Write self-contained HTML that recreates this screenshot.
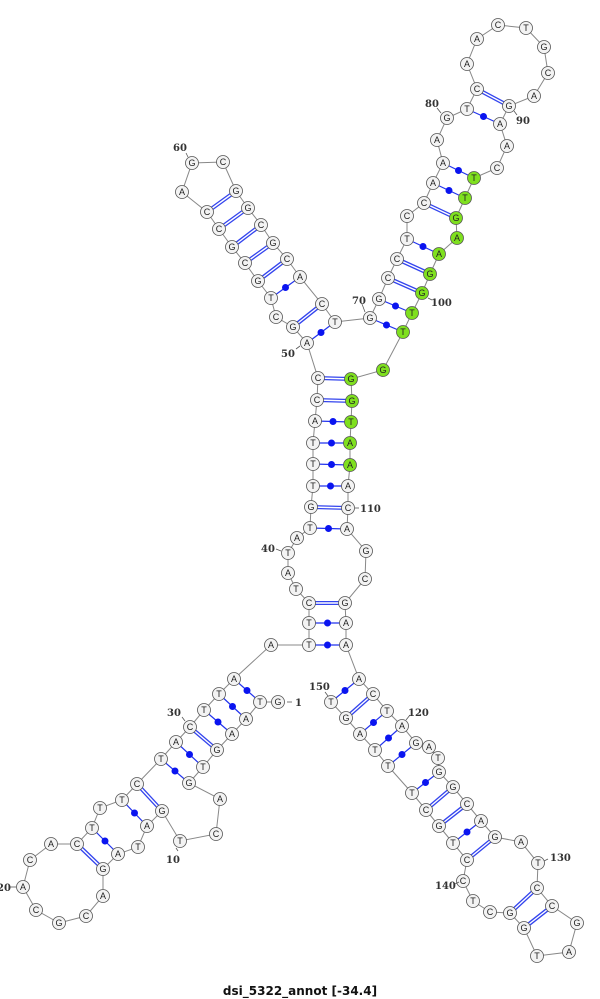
<!DOCTYPE html>
<html><head><meta charset="utf-8"><style>
html,body{margin:0;padding:0;background:#fff;}
svg{display:block;}
.n circle{fill:#f3f3f3;stroke:#555;stroke-width:0.8;}
.g circle{fill:#7fe01f;stroke:#555;stroke-width:0.8;}
text{font-family:"Liberation Sans",sans-serif;}
.n text,.g text{font-size:9px;fill:#222;text-anchor:middle;dominant-baseline:central;}
.lb text{font-size:10px;font-weight:bold;fill:#333;font-family:"DejaVu Serif","Liberation Serif",serif;}
</style></head><body>
<svg width="600" height="999" viewBox="0 0 600 999" xmlns="http://www.w3.org/2000/svg">
<polyline fill="none" stroke="#888" stroke-width="1" points="278,702 260,702 246,719 232,734 217,750 203,767 189,783 220,799 216,834 180,841 162,811 147,826 138,847 118,854 103,869 103,896 86,916 59,923 36,910 23,887 30,860 51,844 77,844 92,828 100,808 122,800 137,784 161,759 176,742 190,727 204,710 219,694 234,679 271,645 309,645 309,623 309,603 296,589 288,573 288,553 297,538 310,528 311,507 313,486 313,464 313,443 315,421 317,400 318,378 307,343 293,327 276,317 271,298 258,281 245,263 232,247 219,229 207,212 182,192 192,163 223,162 236,191 248,208 261,225 273,243 287,259 300,277 322,304 335,322 370,318 379,299 388,278 397,259 407,239 407,216 424,203 433,183 443,163 437,140 447,118 467,109 477,89 467,64 477,39 498,25 526,28 544,47 548,73 534,96 509,106 500,124 507,146 497,168 474,178 465,198 456,218 457,238 439,254 430,274 422,293 412,313 403,332 383,370 351,379 352,401 351,422 350,443 350,465 348,486 348,508 347,529 366,551 365,579 345,603 346,623 346,645 359,679 373,694 387,711 402,726 416,743 429,747 438,758 439,772 453,787 467,804 481,821 495,837 521,842 538,863 537,888 552,906 577,923 569,952 537,956 524,928 510,913 490,912 473,901 463,881 467,860 453,843 439,826 426,810 412,793 388,766 375,750 360,734 346,718 331,702"/>
<g stroke="#3344ee" stroke-width="4">
<line x1="190" y1="727" x2="217" y2="750"/><line x1="137" y1="784" x2="162" y2="811"/><line x1="77" y1="844" x2="103" y2="869"/>
<line x1="309" y1="603" x2="345" y2="603"/><line x1="311" y1="507" x2="348" y2="508"/><line x1="317" y1="400" x2="352" y2="401"/><line x1="318" y1="378" x2="351" y2="379"/>
<line x1="293" y1="327" x2="322" y2="304"/><line x1="258" y1="281" x2="287" y2="259"/><line x1="245" y1="263" x2="273" y2="243"/><line x1="232" y1="247" x2="261" y2="225"/><line x1="219" y1="229" x2="248" y2="208"/><line x1="207" y1="212" x2="236" y2="191"/>
<line x1="388" y1="278" x2="422" y2="293"/><line x1="397" y1="259" x2="430" y2="274"/><line x1="424" y1="203" x2="456" y2="218"/><line x1="477" y1="89" x2="509" y2="106"/>
<line x1="373" y1="694" x2="346" y2="718"/><line x1="453" y1="787" x2="426" y2="810"/><line x1="467" y1="804" x2="439" y2="826"/><line x1="495" y1="837" x2="467" y2="860"/><line x1="537" y1="888" x2="510" y2="913"/><line x1="552" y1="906" x2="524" y2="928"/>
</g>
<g stroke="#fff" stroke-width="1.4">
<line x1="190" y1="727" x2="217" y2="750"/><line x1="137" y1="784" x2="162" y2="811"/><line x1="77" y1="844" x2="103" y2="869"/>
<line x1="309" y1="603" x2="345" y2="603"/><line x1="311" y1="507" x2="348" y2="508"/><line x1="317" y1="400" x2="352" y2="401"/><line x1="318" y1="378" x2="351" y2="379"/>
<line x1="293" y1="327" x2="322" y2="304"/><line x1="258" y1="281" x2="287" y2="259"/><line x1="245" y1="263" x2="273" y2="243"/><line x1="232" y1="247" x2="261" y2="225"/><line x1="219" y1="229" x2="248" y2="208"/><line x1="207" y1="212" x2="236" y2="191"/>
<line x1="388" y1="278" x2="422" y2="293"/><line x1="397" y1="259" x2="430" y2="274"/><line x1="424" y1="203" x2="456" y2="218"/><line x1="477" y1="89" x2="509" y2="106"/>
<line x1="373" y1="694" x2="346" y2="718"/><line x1="453" y1="787" x2="426" y2="810"/><line x1="467" y1="804" x2="439" y2="826"/><line x1="495" y1="837" x2="467" y2="860"/><line x1="537" y1="888" x2="510" y2="913"/><line x1="552" y1="906" x2="524" y2="928"/>
</g>
<g stroke="#2233ee" stroke-width="1.2">
<line x1="234" y1="679" x2="260" y2="702"/><line x1="219" y1="694" x2="246" y2="719"/><line x1="204" y1="710" x2="232" y2="734"/><line x1="176" y1="742" x2="203" y2="767"/><line x1="161" y1="759" x2="189" y2="783"/><line x1="122" y1="800" x2="147" y2="826"/><line x1="92" y1="828" x2="118" y2="854"/>
<line x1="309" y1="645" x2="346" y2="645"/><line x1="309" y1="623" x2="346" y2="623"/><line x1="310" y1="528" x2="347" y2="529"/><line x1="313" y1="486" x2="348" y2="486"/><line x1="313" y1="464" x2="350" y2="465"/><line x1="313" y1="443" x2="350" y2="443"/><line x1="315" y1="421" x2="351" y2="422"/>
<line x1="307" y1="343" x2="335" y2="322"/><line x1="271" y1="298" x2="300" y2="277"/><line x1="370" y1="318" x2="403" y2="332"/><line x1="379" y1="299" x2="412" y2="313"/><line x1="407" y1="239" x2="439" y2="254"/><line x1="433" y1="183" x2="465" y2="198"/><line x1="443" y1="163" x2="474" y2="178"/><line x1="467" y1="109" x2="500" y2="124"/>
<line x1="359" y1="679" x2="331" y2="702"/><line x1="387" y1="711" x2="360" y2="734"/><line x1="402" y1="726" x2="375" y2="750"/><line x1="416" y1="743" x2="388" y2="766"/><line x1="439" y1="772" x2="412" y2="793"/><line x1="481" y1="821" x2="453" y2="843"/>
</g>
<g fill="#0a14f0">
<circle cx="247" cy="690.5" r="3.5"/><circle cx="232.5" cy="706.5" r="3.5"/><circle cx="218" cy="722" r="3.5"/><circle cx="189.5" cy="754.5" r="3.5"/><circle cx="175" cy="771" r="3.5"/><circle cx="134.5" cy="813" r="3.5"/><circle cx="105" cy="841" r="3.5"/>
<circle cx="327.5" cy="645" r="3.5"/><circle cx="327.5" cy="623" r="3.5"/><circle cx="328.5" cy="528.5" r="3.5"/><circle cx="330.5" cy="486" r="3.5"/><circle cx="331.5" cy="464.5" r="3.5"/><circle cx="331.5" cy="443" r="3.5"/><circle cx="333" cy="421.5" r="3.5"/>
<circle cx="321" cy="332.5" r="3.5"/><circle cx="285.5" cy="287.5" r="3.5"/><circle cx="386.5" cy="325" r="3.5"/><circle cx="395.5" cy="306" r="3.5"/><circle cx="423" cy="246.5" r="3.5"/><circle cx="449" cy="190.5" r="3.5"/><circle cx="458.5" cy="170.5" r="3.5"/><circle cx="483.5" cy="116.5" r="3.5"/>
<circle cx="345" cy="690.5" r="3.5"/><circle cx="373.5" cy="722.5" r="3.5"/><circle cx="388.5" cy="738" r="3.5"/><circle cx="402" cy="754.5" r="3.5"/><circle cx="425.5" cy="782.5" r="3.5"/><circle cx="467" cy="832" r="3.5"/>
</g>
<g class="n">
<g transform="translate(278,702)"><circle r="6.5"/><text>G</text></g>
<g transform="translate(260,702)"><circle r="6.5"/><text>T</text></g>
<g transform="translate(246,719)"><circle r="6.5"/><text>A</text></g>
<g transform="translate(232,734)"><circle r="6.5"/><text>A</text></g>
<g transform="translate(217,750)"><circle r="6.5"/><text>G</text></g>
<g transform="translate(203,767)"><circle r="6.5"/><text>T</text></g>
<g transform="translate(189,783)"><circle r="6.5"/><text>G</text></g>
<g transform="translate(220,799)"><circle r="6.5"/><text>A</text></g>
<g transform="translate(216,834)"><circle r="6.5"/><text>C</text></g>
<g transform="translate(180,841)"><circle r="6.5"/><text>T</text></g>
<g transform="translate(162,811)"><circle r="6.5"/><text>G</text></g>
<g transform="translate(147,826)"><circle r="6.5"/><text>A</text></g>
<g transform="translate(138,847)"><circle r="6.5"/><text>T</text></g>
<g transform="translate(118,854)"><circle r="6.5"/><text>A</text></g>
<g transform="translate(103,869)"><circle r="6.5"/><text>G</text></g>
<g transform="translate(103,896)"><circle r="6.5"/><text>A</text></g>
<g transform="translate(86,916)"><circle r="6.5"/><text>C</text></g>
<g transform="translate(59,923)"><circle r="6.5"/><text>G</text></g>
<g transform="translate(36,910)"><circle r="6.5"/><text>C</text></g>
<g transform="translate(23,887)"><circle r="6.5"/><text>A</text></g>
<g transform="translate(30,860)"><circle r="6.5"/><text>C</text></g>
<g transform="translate(51,844)"><circle r="6.5"/><text>A</text></g>
<g transform="translate(77,844)"><circle r="6.5"/><text>C</text></g>
<g transform="translate(92,828)"><circle r="6.5"/><text>T</text></g>
<g transform="translate(100,808)"><circle r="6.5"/><text>T</text></g>
<g transform="translate(122,800)"><circle r="6.5"/><text>T</text></g>
<g transform="translate(137,784)"><circle r="6.5"/><text>C</text></g>
<g transform="translate(161,759)"><circle r="6.5"/><text>T</text></g>
<g transform="translate(176,742)"><circle r="6.5"/><text>A</text></g>
<g transform="translate(190,727)"><circle r="6.5"/><text>C</text></g>
<g transform="translate(204,710)"><circle r="6.5"/><text>T</text></g>
<g transform="translate(219,694)"><circle r="6.5"/><text>T</text></g>
<g transform="translate(234,679)"><circle r="6.5"/><text>A</text></g>
<g transform="translate(271,645)"><circle r="6.5"/><text>A</text></g>
<g transform="translate(309,645)"><circle r="6.5"/><text>T</text></g>
<g transform="translate(309,623)"><circle r="6.5"/><text>T</text></g>
<g transform="translate(309,603)"><circle r="6.5"/><text>C</text></g>
<g transform="translate(296,589)"><circle r="6.5"/><text>T</text></g>
<g transform="translate(288,573)"><circle r="6.5"/><text>A</text></g>
<g transform="translate(288,553)"><circle r="6.5"/><text>T</text></g>
<g transform="translate(297,538)"><circle r="6.5"/><text>A</text></g>
<g transform="translate(310,528)"><circle r="6.5"/><text>T</text></g>
<g transform="translate(311,507)"><circle r="6.5"/><text>G</text></g>
<g transform="translate(313,486)"><circle r="6.5"/><text>T</text></g>
<g transform="translate(313,464)"><circle r="6.5"/><text>T</text></g>
<g transform="translate(313,443)"><circle r="6.5"/><text>T</text></g>
<g transform="translate(315,421)"><circle r="6.5"/><text>A</text></g>
<g transform="translate(317,400)"><circle r="6.5"/><text>C</text></g>
<g transform="translate(318,378)"><circle r="6.5"/><text>C</text></g>
<g transform="translate(307,343)"><circle r="6.5"/><text>A</text></g>
<g transform="translate(293,327)"><circle r="6.5"/><text>G</text></g>
<g transform="translate(276,317)"><circle r="6.5"/><text>C</text></g>
<g transform="translate(271,298)"><circle r="6.5"/><text>T</text></g>
<g transform="translate(258,281)"><circle r="6.5"/><text>G</text></g>
<g transform="translate(245,263)"><circle r="6.5"/><text>C</text></g>
<g transform="translate(232,247)"><circle r="6.5"/><text>G</text></g>
<g transform="translate(219,229)"><circle r="6.5"/><text>C</text></g>
<g transform="translate(207,212)"><circle r="6.5"/><text>C</text></g>
<g transform="translate(182,192)"><circle r="6.5"/><text>A</text></g>
<g transform="translate(192,163)"><circle r="6.5"/><text>G</text></g>
<g transform="translate(223,162)"><circle r="6.5"/><text>C</text></g>
<g transform="translate(236,191)"><circle r="6.5"/><text>G</text></g>
<g transform="translate(248,208)"><circle r="6.5"/><text>G</text></g>
<g transform="translate(261,225)"><circle r="6.5"/><text>C</text></g>
<g transform="translate(273,243)"><circle r="6.5"/><text>G</text></g>
<g transform="translate(287,259)"><circle r="6.5"/><text>C</text></g>
<g transform="translate(300,277)"><circle r="6.5"/><text>A</text></g>
<g transform="translate(322,304)"><circle r="6.5"/><text>C</text></g>
<g transform="translate(335,322)"><circle r="6.5"/><text>T</text></g>
<g transform="translate(370,318)"><circle r="6.5"/><text>G</text></g>
<g transform="translate(379,299)"><circle r="6.5"/><text>G</text></g>
<g transform="translate(388,278)"><circle r="6.5"/><text>C</text></g>
<g transform="translate(397,259)"><circle r="6.5"/><text>C</text></g>
<g transform="translate(407,239)"><circle r="6.5"/><text>T</text></g>
<g transform="translate(407,216)"><circle r="6.5"/><text>C</text></g>
<g transform="translate(424,203)"><circle r="6.5"/><text>C</text></g>
<g transform="translate(433,183)"><circle r="6.5"/><text>A</text></g>
<g transform="translate(443,163)"><circle r="6.5"/><text>A</text></g>
<g transform="translate(437,140)"><circle r="6.5"/><text>A</text></g>
<g transform="translate(447,118)"><circle r="6.5"/><text>G</text></g>
<g transform="translate(467,109)"><circle r="6.5"/><text>T</text></g>
<g transform="translate(477,89)"><circle r="6.5"/><text>C</text></g>
<g transform="translate(467,64)"><circle r="6.5"/><text>A</text></g>
<g transform="translate(477,39)"><circle r="6.5"/><text>A</text></g>
<g transform="translate(498,25)"><circle r="6.5"/><text>C</text></g>
<g transform="translate(526,28)"><circle r="6.5"/><text>T</text></g>
<g transform="translate(544,47)"><circle r="6.5"/><text>G</text></g>
<g transform="translate(548,73)"><circle r="6.5"/><text>C</text></g>
<g transform="translate(534,96)"><circle r="6.5"/><text>A</text></g>
<g transform="translate(509,106)"><circle r="6.5"/><text>G</text></g>
<g transform="translate(500,124)"><circle r="6.5"/><text>A</text></g>
<g transform="translate(507,146)"><circle r="6.5"/><text>A</text></g>
<g transform="translate(497,168)"><circle r="6.5"/><text>C</text></g>
<g transform="translate(348,486)"><circle r="6.5"/><text>A</text></g>
<g transform="translate(348,508)"><circle r="6.5"/><text>C</text></g>
<g transform="translate(347,529)"><circle r="6.5"/><text>A</text></g>
<g transform="translate(366,551)"><circle r="6.5"/><text>G</text></g>
<g transform="translate(365,579)"><circle r="6.5"/><text>C</text></g>
<g transform="translate(345,603)"><circle r="6.5"/><text>G</text></g>
<g transform="translate(346,623)"><circle r="6.5"/><text>A</text></g>
<g transform="translate(346,645)"><circle r="6.5"/><text>A</text></g>
<g transform="translate(359,679)"><circle r="6.5"/><text>A</text></g>
<g transform="translate(373,694)"><circle r="6.5"/><text>C</text></g>
<g transform="translate(387,711)"><circle r="6.5"/><text>T</text></g>
<g transform="translate(402,726)"><circle r="6.5"/><text>A</text></g>
<g transform="translate(416,743)"><circle r="6.5"/><text>G</text></g>
<g transform="translate(429,747)"><circle r="6.5"/><text>A</text></g>
<g transform="translate(438,758)"><circle r="6.5"/><text>T</text></g>
<g transform="translate(439,772)"><circle r="6.5"/><text>G</text></g>
<g transform="translate(453,787)"><circle r="6.5"/><text>G</text></g>
<g transform="translate(467,804)"><circle r="6.5"/><text>C</text></g>
<g transform="translate(481,821)"><circle r="6.5"/><text>A</text></g>
<g transform="translate(495,837)"><circle r="6.5"/><text>G</text></g>
<g transform="translate(521,842)"><circle r="6.5"/><text>A</text></g>
<g transform="translate(538,863)"><circle r="6.5"/><text>T</text></g>
<g transform="translate(537,888)"><circle r="6.5"/><text>C</text></g>
<g transform="translate(552,906)"><circle r="6.5"/><text>C</text></g>
<g transform="translate(577,923)"><circle r="6.5"/><text>G</text></g>
<g transform="translate(569,952)"><circle r="6.5"/><text>A</text></g>
<g transform="translate(537,956)"><circle r="6.5"/><text>T</text></g>
<g transform="translate(524,928)"><circle r="6.5"/><text>G</text></g>
<g transform="translate(510,913)"><circle r="6.5"/><text>G</text></g>
<g transform="translate(490,912)"><circle r="6.5"/><text>C</text></g>
<g transform="translate(473,901)"><circle r="6.5"/><text>T</text></g>
<g transform="translate(463,881)"><circle r="6.5"/><text>C</text></g>
<g transform="translate(467,860)"><circle r="6.5"/><text>C</text></g>
<g transform="translate(453,843)"><circle r="6.5"/><text>T</text></g>
<g transform="translate(439,826)"><circle r="6.5"/><text>G</text></g>
<g transform="translate(426,810)"><circle r="6.5"/><text>C</text></g>
<g transform="translate(412,793)"><circle r="6.5"/><text>T</text></g>
<g transform="translate(388,766)"><circle r="6.5"/><text>T</text></g>
<g transform="translate(375,750)"><circle r="6.5"/><text>T</text></g>
<g transform="translate(360,734)"><circle r="6.5"/><text>A</text></g>
<g transform="translate(346,718)"><circle r="6.5"/><text>G</text></g>
<g transform="translate(331,702)"><circle r="6.5"/><text>T</text></g>
</g>
<g class="g">
<g transform="translate(474,178)"><circle r="6.5"/><text>T</text></g>
<g transform="translate(465,198)"><circle r="6.5"/><text>T</text></g>
<g transform="translate(456,218)"><circle r="6.5"/><text>G</text></g>
<g transform="translate(457,238)"><circle r="6.5"/><text>A</text></g>
<g transform="translate(439,254)"><circle r="6.5"/><text>A</text></g>
<g transform="translate(430,274)"><circle r="6.5"/><text>G</text></g>
<g transform="translate(422,293)"><circle r="6.5"/><text>G</text></g>
<g transform="translate(412,313)"><circle r="6.5"/><text>T</text></g>
<g transform="translate(403,332)"><circle r="6.5"/><text>T</text></g>
<g transform="translate(383,370)"><circle r="6.5"/><text>G</text></g>
<g transform="translate(351,379)"><circle r="6.5"/><text>G</text></g>
<g transform="translate(352,401)"><circle r="6.5"/><text>G</text></g>
<g transform="translate(351,422)"><circle r="6.5"/><text>T</text></g>
<g transform="translate(350,443)"><circle r="6.5"/><text>A</text></g>
<g transform="translate(350,465)"><circle r="6.5"/><text>A</text></g>
</g>
<g stroke="#555" stroke-width="0.8">
<line x1="287" y1="702" x2="292" y2="702"/><line x1="176" y1="848" x2="178" y2="851"/><line x1="10" y1="887" x2="16" y2="887"/><line x1="182" y1="717" x2="185" y2="721"/><line x1="276" y1="549" x2="281" y2="551"/><line x1="296" y1="349" x2="300" y2="346"/><line x1="186" y1="153" x2="188" y2="157"/><line x1="362" y1="304" x2="365" y2="312"/><line x1="437" y1="108" x2="441" y2="113"/><line x1="514" y1="111" x2="517" y2="115"/><line x1="428" y1="298" x2="432" y2="300"/><line x1="355" y1="508" x2="359" y2="508"/><line x1="406" y1="720" x2="410" y2="715"/><line x1="544" y1="861" x2="548" y2="859"/><line x1="455" y1="884" x2="459" y2="882"/><line x1="325" y1="692" x2="328" y2="696"/>
</g>
<g class="lb">
<text x="295" y="706">1</text><text x="166" y="863">10</text><text x="-3" y="891">20</text><text x="167" y="716">30</text><text x="261" y="552">40</text><text x="281" y="357">50</text><text x="173" y="151">60</text><text x="352" y="304">70</text><text x="425" y="107">80</text><text x="516" y="124">90</text><text x="431" y="306">100</text><text x="360" y="512">110</text><text x="408" y="716">120</text><text x="550" y="861">130</text><text x="435" y="889">140</text><text x="309" y="690">150</text>
</g>
<text x="300" y="995" text-anchor="middle" style="font-size:12px;font-weight:bold;fill:#111;font-family:'DejaVu Sans',sans-serif">dsi_5322_annot [-34.4]</text>
</svg>
</body></html>
